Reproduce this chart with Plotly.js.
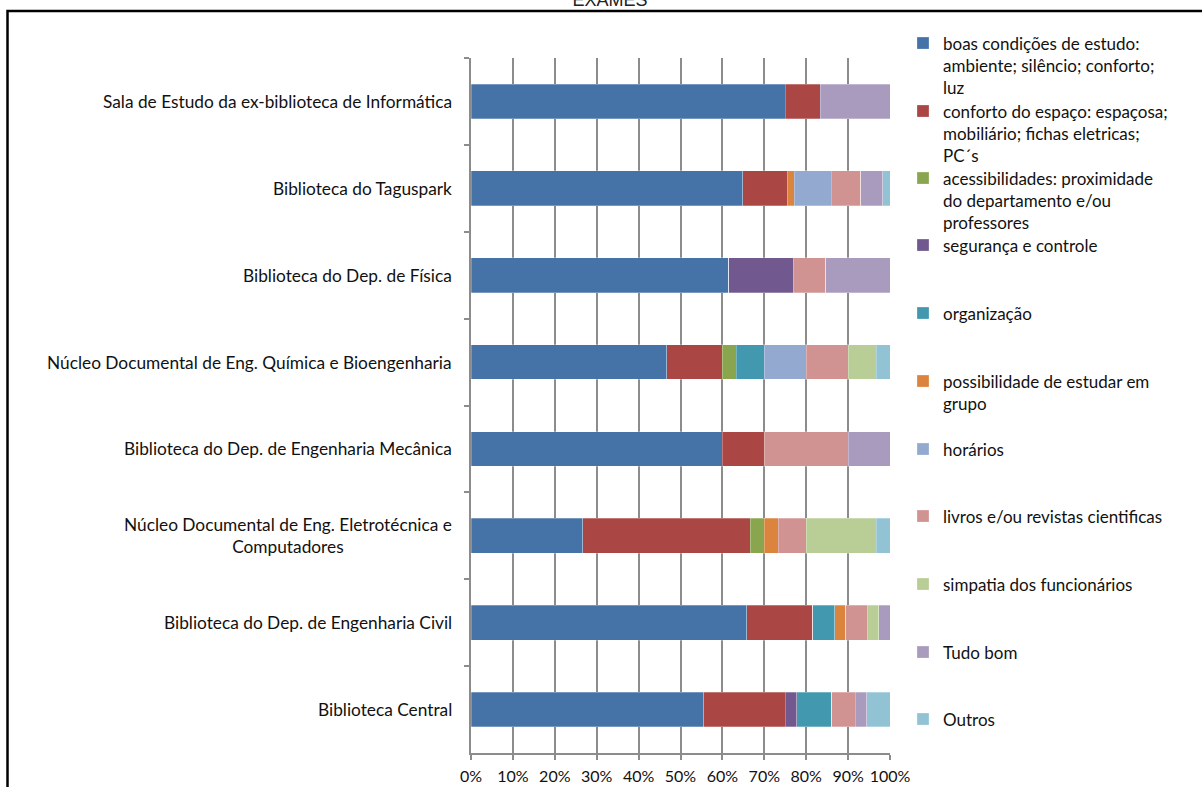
<!DOCTYPE html>
<html>
<head>
<meta charset="utf-8">
<script src="https://cdn.plot.ly/plotly-3.0.1.min.js"></script>
<style>html,body{margin:0;padding:0;background:#fff;}#chart{width:1202px;height:787px;}</style>
</head>
<body>
<div id="chart"></div>
<script>
// Categories (top to bottom, as shown)
const categories = [
  "Sala de Estudo da ex-biblioteca de Informática",
  "Biblioteca do Taguspark",
  "Biblioteca do Dep. de Física",
  "Núcleo Documental de Eng. Química e Bioengenharia",
  "Biblioteca do Dep. de Engenharia Mecânica",
  "Núcleo Documental de Eng. Eletrotécnica e<br>Computadores",
  "Biblioteca do Dep. de Engenharia Civil",
  "Biblioteca Central"
];

// Series names (legend)
const seriesNames = [
  "boas condições de estudo:<br>ambiente; silêncio; conforto;<br>luz",
  "conforto do espaço: espaçosa;<br>mobiliário; fichas eletricas;<br>PC´s",
  "acessibilidades: proximidade<br>do departamento e/ou<br>professores",
  "segurança e controle",
  "organização",
  "possibilidade de estudar em<br>grupo",
  "horários",
  "livros e/ou revistas cientificas",
  "simpatia dos funcionários",
  "Tudo bom",
  "Outros"
];

// Response counts per category (shown as 100% stacked)
const boasCondicoes   = [9, 37, 8, 14, 6, 8, 25, 20];
const confortoEspaco  = [1, 6, 0, 4, 1, 12, 6, 7];
const acessibilidades = [0, 0, 0, 1, 0, 1, 0, 0];
const seguranca       = [0, 0, 2, 0, 0, 0, 0, 1];
const organizacao     = [0, 0, 0, 2, 0, 0, 2, 3];
const estudarGrupo    = [0, 1, 0, 0, 0, 1, 1, 0];
const horarios        = [0, 5, 0, 3, 0, 0, 0, 0];
const livros          = [0, 4, 1, 3, 2, 2, 2, 2];
const simpatia        = [0, 0, 0, 2, 0, 5, 1, 0];
const tudoBom         = [2, 3, 2, 0, 1, 0, 1, 1];
const outros          = [0, 1, 0, 1, 0, 1, 0, 2];

// x-axis ticks
const xTickValues = [0, 10, 20, 30, 40, 50, 60, 70, 80, 90, 100];
const xTickLabels = ["0%", "10%", "20%", "30%", "40%", "50%", "60%", "70%", "80%", "90%", "100%"];

const seriesValues = [boasCondicoes, confortoEspaco, acessibilidades, seguranca, organizacao,
  estudarGrupo, horarios, livros, simpatia, tudoBom, outros];

const seriesColors = ["#4572A7", "#AA4643", "#89A54E", "#71588F", "#4198AF",
  "#DB843D", "#93A9CF", "#D19392", "#B9CD96", "#A99BBD", "#92C3D5"];

// layout: legend first-line centre (px from top)
const legendLineY = [42, 110, 177, 244, 312, 380, 448, 515, 583, 651, 718];

const W = 1202, H = 787;
const FONT = "Lato, 'Open Sans', sans-serif";

const traces = seriesNames.map((name, i) => ({
  type: "bar",
  orientation: "h",
  name: name,
  y: categories,
  x: seriesValues[i],
  marker: {color: seriesColors[i], line: {width: 0.6, color: "rgba(255,255,255,0.45)"}},
  legend: i === 0 ? "legend" : "legend" + (i + 1),
  hoverinfo: "name+x"
}));

const layout = {
  width: W, height: H,
  paper_bgcolor: "#fff", plot_bgcolor: "#fff",
  margin: {l: 471, r: 312, t: 58, b: 34, autoexpand: false},
  barmode: "stack",
  barnorm: "percent",
  bargap: 0.6,
  title: {
    text: "EXAMES",
    font: {family: "'Liberation Sans', Arial, sans-serif", size: 18, color: "#222"},
    xref: "container", yref: "container",
    x: 610 / W, xanchor: "center",
    y: 1, yanchor: "middle"
  },
  xaxis: {
    range: [0, 100],
    tickmode: "array",
    tickvals: xTickValues,
    ticktext: xTickLabels,
    showgrid: true, gridcolor: "#8c8c8c", gridwidth: 2,
    zeroline: false,
    showline: true, linecolor: "#8c8c8c", linewidth: 2,
    ticks: "outside", ticklen: 5, tickcolor: "#8c8c8c", tickwidth: 2,
    ticklabelstandoff: 3,
    tickfont: {family: FONT, size: 16, color: "#111"},
    fixedrange: true
  },
  yaxis: {
    type: "category",
    autorange: "reversed",
    showticklabels: false,
    tickson: "boundaries",
    ticks: "outside", ticklen: 5, tickcolor: "#8c8c8c", tickwidth: 2,
    showline: true, linecolor: "#8c8c8c", linewidth: 2,
    showgrid: false, zeroline: false,
    fixedrange: true
  },
  annotations: categories.map(c => ({
    xref: "paper", yref: "y",
    x: 0, y: c,
    xanchor: "right", yanchor: "middle",
    xshift: -17,
    align: "center",
    showarrow: false,
    text: c,
    font: {family: FONT, size: 17.3, color: "#111"}
  })),
  shapes: [{
    type: "rect", xref: "paper", yref: "paper",
    x0: (7.5 - 471) / 419, x1: (1210 - 471) / 419,
    y0: (753 - 800) / 695, y1: 1 + (58 - 11) / 695,
    line: {color: "#000", width: 2.5},
    fillcolor: "rgba(0,0,0,0)",
    layer: "below"
  }],
  showlegend: true
};

legendLineY.forEach((py, i) => {
  const key = i === 0 ? "legend" : "legend" + (i + 1);
  layout[key] = {
    xref: "container", yref: "container",
    x: 903 / W, xanchor: "left",
    y: 1 - (py - 16.5) / H, yanchor: "top",
    valign: "top",
    bgcolor: "rgba(0,0,0,0)",
    borderwidth: 0,
    font: {family: FONT, size: 17, color: "#111"},
    itemclick: false, itemdoubleclick: false
  };
});

Plotly.newPlot("chart", traces, layout, {displayModeBar: false, responsive: false});
</script>
</body>
</html>
